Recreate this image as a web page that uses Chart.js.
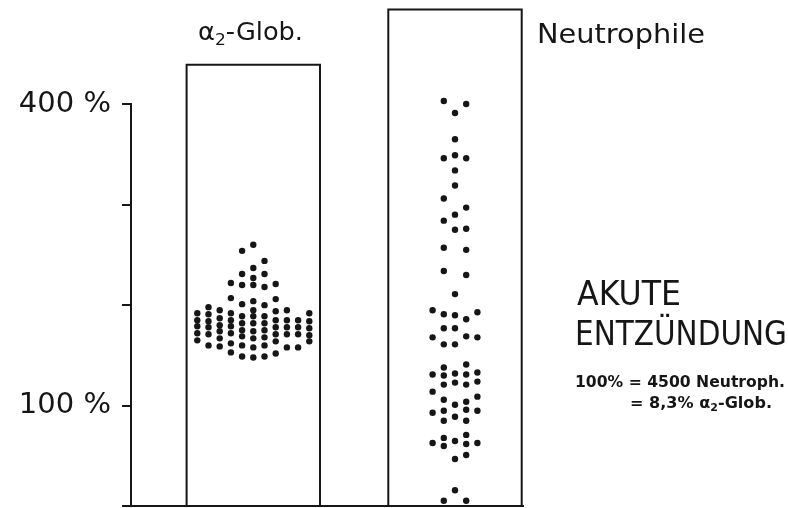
<!DOCTYPE html>
<html>
<head>
<meta charset="utf-8">
<script src="https://cdn.jsdelivr.net/npm/chart.js@4.4.1/dist/chart.umd.min.js"></script>
<style>
	html, body { margin: 0; padding: 0; background: #fff; }
	#mycanvas { display: block; }
</style>
</head>
<body>
<canvas id="mycanvas" width="788" height="508"></canvas>
<script>
// groups and box heights (percent)
var categories = ["α2-Glob.", "Neutrophile"];
var boxTops = [439, 494];

// y ticks
var tickValues = [400, 100];
var tickLabels = ["400 %", "100 %"];

// alpha2-globulin dots: column offset in the dot stack, value in %
var alphaCol = [0,-1,1,0,-1,1,0,-2,-1,0,1,2,-2,-1,0,1,2,
	-5,-5,-5,-5,-5,
	-4,-4,-4,-4,-4,-4,
	-3,-3,-3,-3,-3,-3,
	-2,-2,-2,-2,-2,-2,
	-1,-1,-1,-1,-1,-1,
	0,0,0,0,0,0,0,
	1,1,1,1,1,1,
	2,2,2,2,2,2,
	3,3,3,3,3,
	4,4,4,4,
	5,5,5,5,5];
var alphaVal = [260,254,244,237,231,231,227,222,220,220,218,221,207,201,204,200,206,
	192,185,179,172,165,
	198,191,184,178,171,160,
	195,187,180,174,167,159,
	192,185,179,172,162,153,
	189,182,175,169,160,149,
	195,189,182,174,167,158,148,
	189,182,175,168,160,149,
	194,185,178,171,164,152,
	195,185,178,171,158,
	185,178,171,158,
	192,184,177,170,164];

// neutrophil dots
var neutroCol = [0,0,0,-1,1,0,0,-1,0,1,0,0,-1,1,0,-1,0,1,-1,1,-1,1,0,
	-2,-1,0,1,2,-1,0,-2,1,2,-1,0,-1,1,-2,-1,0,1,2,-1,0,1,2,
	-2,-1,0,1,2,-2,-1,-1,0,1,1,2,-1,1,-2,-1,0,1,2,0,1,0,-1,1];
var neutroVal = [481,451,423,403,400,391,365,346,349,346,334,319,306,297,290,284,275,276,257,255,234,230,211,
	195,191,190,186,193,177,177,168,169,168,161,161,138,141,131,130,132,131,133,121,123,121,124,
	114,106,101,104,109,93,95,85,89,96,85,95,68,71,63,60,65,62,63,47,51,16,5.5,5.5];

var centers = [122.3, 324];
var colStep = 11.2;
var boxHalf = 66.7;
var ink = "#161616";

function dots(cols, vals, g) {
	var out = [];
	for (var i in vals) {
		out.push({x: centers[g] + cols[i] * colStep, y: vals[i]});
	}
	return out;
}

function box(g) {
	var l = centers[g] - boxHalf, r = centers[g] + boxHalf;
	return [{x: l, y: 0}, {x: l, y: boxTops[g]}, {x: r, y: boxTops[g]}, {x: r, y: 0}];
}

// draw text parts stretched to a given width
function drawFit(ctx, parts, x, y, width) {
	var total = 0;
	for (var i in parts) {
		ctx.font = (parts[i].bold ? "bold " : "") + parts[i].size + "px 'DejaVu Sans'";
		parts[i].w = ctx.measureText(parts[i].t).width;
		total += parts[i].w;
	}
	ctx.save();
	ctx.translate(x, y);
	ctx.scale(width / total, 1);
	ctx.fillStyle = ink;
	ctx.textBaseline = "alphabetic";
	ctx.textAlign = "left";
	var cx = 0;
	for (var j in parts) {
		ctx.font = (parts[j].bold ? "bold " : "") + parts[j].size + "px 'DejaVu Sans'";
		ctx.fillText(parts[j].t, cx, parts[j].dy || 0);
		cx += parts[j].w;
	}
	ctx.restore();
}

var labelsPlugin = {
	id: "labels",
	afterDraw: function(chart) {
		var ctx = chart.ctx;
		drawFit(ctx, [{t: "α", size: 24}, {t: "2", size: 16, dy: 5}, {t: "-Glob.", size: 24}], 198, 39.5, 105);
		drawFit(ctx, [{t: categories[1], size: 27}], 537, 43, 168);
		drawFit(ctx, [{t: "AKUTE", size: 33}], 577, 305, 104);
		drawFit(ctx, [{t: "ENTZÜNDUNG", size: 33}], 575, 345, 212);
		drawFit(ctx, [{t: "100% = 4500 Neutroph.", size: 16, bold: true}], 575, 386.5, 210);
		drawFit(ctx, [{t: "= 8,3% ", size: 16, bold: true}, {t: "α", size: 16, bold: true},
			{t: "2", size: 11, bold: true, dy: 3}, {t: "-Glob.", size: 16, bold: true}], 630, 408, 142);
	}
};

var lineDs = function(g) {
	return {
		type: "line",
		data: box(g),
		showLine: true,
		fill: false,
		borderColor: ink,
		borderWidth: 2,
		pointRadius: 0,
		tension: 0,
		clip: false
	};
};

var dotDs = function(cols, vals, g) {
	return {
		type: "scatter",
		data: dots(cols, vals, g),
		backgroundColor: ink,
		borderColor: ink,
		borderWidth: 0,
		pointRadius: 3.2,
		clip: false
	};
};

var ctx = document.getElementById("mycanvas");

var chart = new Chart(ctx, {
	type: "scatter",
	data: {
		datasets: [
			lineDs(0),
			lineDs(1),
			dotDs(alphaCol, alphaVal, 0),
			dotDs(neutroCol, neutroVal, 1)
		]
	},
	options: {
		responsive: false,
		animation: false,
		devicePixelRatio: 1,
		layout: { autoPadding: false, padding: { left: 0, right: 265, top: 104, bottom: 1.7 } },
		plugins: { legend: { display: false }, tooltip: { enabled: false } },
		scales: {
			x: {
				type: "linear",
				min: 0,
				max: 392,
				ticks: { display: false },
				grid: { display: false },
				border: { display: true, color: ink, width: 2 },
				afterFit: function(s) { s.height = 0; s.paddingLeft = 0; s.paddingRight = 0; }
			},
			y: {
				type: "linear",
				min: 0,
				max: 400,
				afterFit: function(s) { s.width = 131; s.paddingTop = 0; s.paddingBottom = 0; },
				ticks: {
					stepSize: 100,
					padding: 11,
					color: ink,
					font: { family: "'DejaVu Sans'", size: 29 },
					callback: function(v) {
						var k = tickValues.indexOf(v);
						return k >= 0 ? tickLabels[k] : "";
					}
				},
				grid: { drawOnChartArea: false, drawTicks: true, tickLength: 9, color: ink, lineWidth: 2 },
				border: { display: true, color: ink, width: 2 }
			}
		}
	},
	plugins: [labelsPlugin]
});
</script>
</body>
</html>
